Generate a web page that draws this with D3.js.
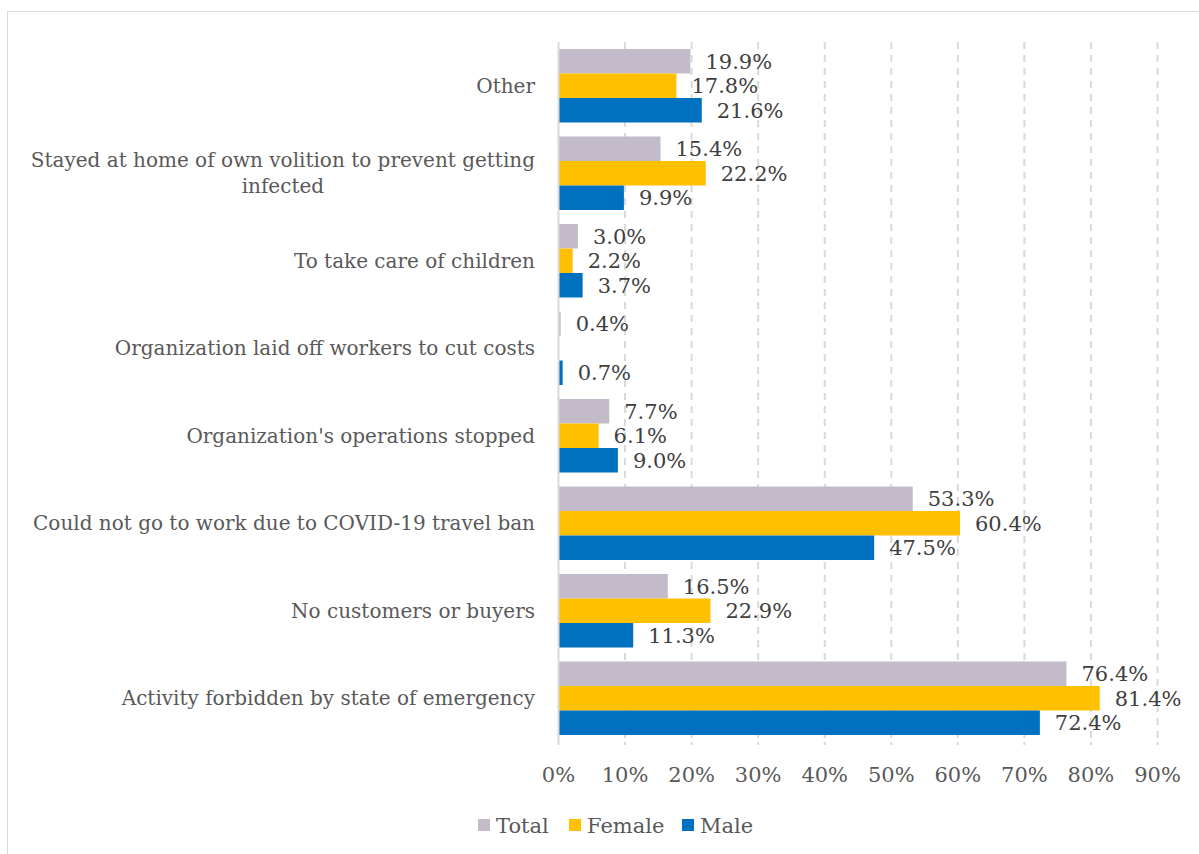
<!DOCTYPE html>
<html>
<head>
<meta charset="utf-8">
<script src="https://cdn.jsdelivr.net/npm/d3@7"></script>
<style>
  html, body { margin: 0; padding: 0; background: #fff; }
  svg { display: block; }
</style>
</head>
<body>
<div id="chart"></div>
<script>
const categories = [
    "Other",
    "Stayed at home of own volition to prevent getting infected",
    "To take care of children",
    "Organization laid off workers to cut costs",
    "Organization's operations stopped",
    "Could not go to work due to COVID-19 travel ban",
    "No customers or buyers",
    "Activity forbidden by state of emergency"
];
const seriesNames = ["Total", "Female", "Male"];
const totalValues = [19.9, 15.4, 3.0, 0.4, 7.7, 53.3, 16.5, 76.4];
const femaleValues = [17.8, 22.2, 2.2, null, 6.1, 60.4, 22.9, 81.4];
const maleValues = [21.6, 9.9, 3.7, 0.7, 9.0, 47.5, 11.3, 72.4];
const tickValues = [0, 10, 20, 30, 40, 50, 60, 70, 80, 90];
const seriesColors = ["#C3BBC9", "#FFC000", "#0070C0"];

const width = 1199;
const height = 854;
const margin = { top: 42, right: 42, bottom: 112, left: 558 };
const font = "'DejaVu Serif', serif";

const valuesBySeries = [totalValues, femaleValues, maleValues];
const rows = categories.map((c, i) => ({
    category: c,
    values: seriesNames.map((s, j) => ({ series: s, value: valuesBySeries[j][i] }))
}));

const svg = d3.create("svg")
    .attr("width", width)
    .attr("height", height)
    .attr("viewBox", [0, 0, width, height]);
document.getElementById("chart").appendChild(svg.node());

// frame
svg.append("rect")
    .attr("x", 7.5).attr("y", 11.5)
    .attr("width", width).attr("height", height)
    .attr("fill", "#fff")
    .attr("stroke", "#D9D9D9");

const x = d3.scaleLinear()
    .domain([0, 90])
    .range([margin.left, margin.left + 599]);

const y = d3.scaleBand()
    .domain(categories)
    .range([margin.top, height - margin.bottom])
    .paddingInner(0.16)
    .paddingOuter(0.08);

const ySeries = d3.scaleBand()
    .domain(seriesNames)
    .range([0, y.bandwidth()]);

const color = d3.scaleOrdinal().domain(seriesNames).range(seriesColors);

// gridlines
svg.append("g")
    .selectAll("line")
    .data(tickValues.slice(1))
    .join("line")
    .attr("x1", d => x(d) + 0.5)
    .attr("x2", d => x(d) + 0.5)
    .attr("y1", margin.top)
    .attr("y2", height - margin.bottom)
    .attr("stroke", "#D9D9D9")
    .attr("stroke-width", 2)
    .attr("stroke-dasharray", "7,6");

// bottom axis: ticks only
const xAxis = svg.append("g")
    .attr("transform", `translate(0,${height - margin.bottom})`)
    .call(d3.axisBottom(x).tickValues(tickValues).tickFormat(d => d + "%").tickSize(3).tickPadding(22));
xAxis.select(".domain").remove();
xAxis.selectAll(".tick line").attr("stroke", "#D9D9D9").attr("stroke-width", 2);
xAxis.selectAll(".tick text")
    .attr("fill", "#595959")
    .attr("font-family", font)
    .attr("font-size", 21);

// bars
const group = svg.append("g")
    .selectAll("g")
    .data(rows)
    .join("g")
    .attr("transform", d => `translate(0,${y(d.category)})`);

group.selectAll("rect")
    .data(d => d.values.filter(v => v.value != null))
    .join("rect")
    .attr("x", x(0))
    .attr("y", d => ySeries(d.series))
    .attr("width", d => x(d.value) - x(0))
    .attr("height", ySeries.bandwidth())
    .attr("fill", d => color(d.series));

group.selectAll("text")
    .data(d => d.values.filter(v => v.value != null))
    .join("text")
    .attr("x", d => x(d.value) + 15)
    .attr("y", d => ySeries(d.series) + ySeries.bandwidth() / 2)
    .attr("dy", "0.36em")
    .attr("fill", "#404040")
    .attr("font-family", font)
    .attr("font-size", 21)
    .text(d => d.value.toFixed(1) + "%");

// y axis line
svg.append("line")
    .attr("x1", x(0) + 0.5).attr("x2", x(0) + 0.5)
    .attr("y1", margin.top).attr("y2", height - margin.bottom)
    .attr("stroke", "#D9D9D9")
    .attr("stroke-width", 2);

// category labels (wrapped ones are centred within their block)
const labelRight = x(0) - 23;
const wrapAt = "getting";
const catLabels = svg.append("g")
    .selectAll("text")
    .data(categories)
    .join("text")
    .attr("fill", "#595959")
    .attr("font-family", font)
    .attr("font-size", 20);

catLabels.each(function (d) {
    const t = d3.select(this);
    const cy = y(d) + y.bandwidth() / 2;
    const idx = d.indexOf(wrapAt);
    if (idx > 0) {
        const lines = [d.slice(0, idx + wrapAt.length), d.slice(idx + wrapAt.length + 1)];
        const first = t.append("tspan").text(lines[0]);
        const w = first.node().getComputedTextLength();
        const cx = labelRight - w / 2;
        t.attr("text-anchor", "middle");
        first.attr("x", cx).attr("y", cy - 13).attr("dy", "0.36em");
        t.append("tspan").text(lines[1]).attr("x", cx).attr("y", cy + 13).attr("dy", "0.36em");
    } else {
        t.attr("text-anchor", "end")
            .attr("x", labelRight)
            .attr("y", cy)
            .attr("dy", "0.36em")
            .text(d);
    }
});

// legend
const legendX = [478, 569, 682];
const legend = svg.append("g")
    .selectAll("g")
    .data(seriesNames)
    .join("g")
    .attr("transform", (d, i) => `translate(${legendX[i]},825)`);
legend.append("rect")
    .attr("x", 0).attr("y", -6)
    .attr("width", 12).attr("height", 12)
    .attr("fill", d => color(d));
legend.append("text")
    .attr("x", 18)
    .attr("dy", "0.36em")
    .attr("fill", "#595959")
    .attr("font-family", font)
    .attr("font-size", 21)
    .text(d => d);
</script>
</body>
</html>
